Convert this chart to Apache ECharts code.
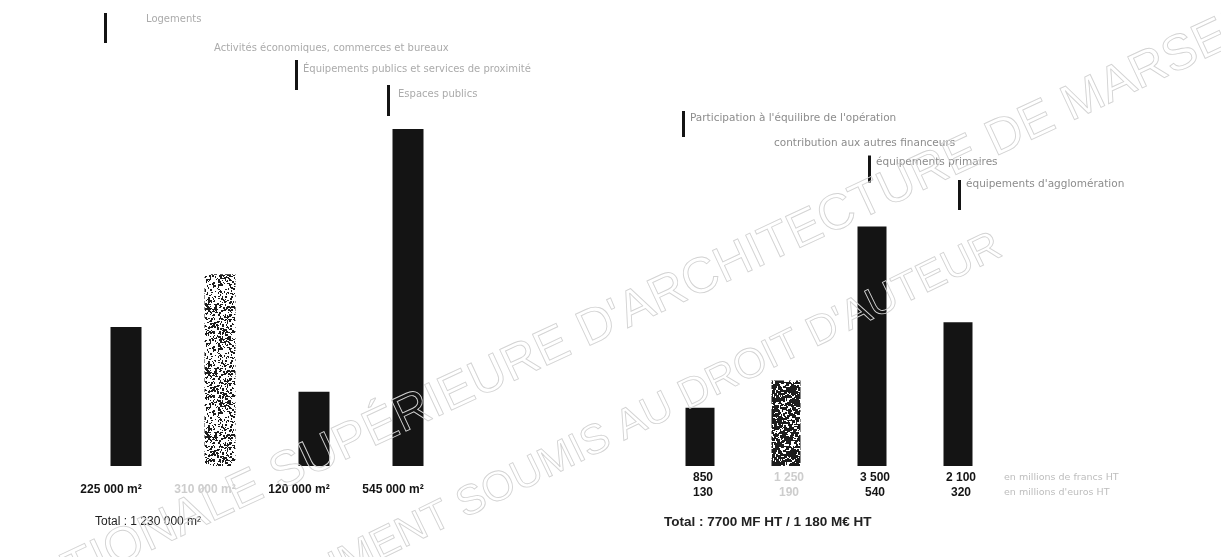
<!DOCTYPE html>
<html>
<head>
<meta charset="utf-8">
<script src="https://cdn.jsdelivr.net/npm/echarts@6/dist/echarts.min.js"></script>
<style>
  html, body { margin: 0; padding: 0; background: #fff; }
  #chart { width: 1221px; height: 557px; }
</style>
</head>
<body>
<div id="chart"></div>
<script>
// Surfaces (m²) by programme component
const surfaceCategories = [
  'Logements',
  'Activités économiques, commerces et bureaux',
  'Équipements publics et services de proximité',
  'Espaces publics'
];
const surfaceValues = [225000, 310000, 120000, 545000];
const surfaceTotal = 'Total : 1 230 000 m²';

// Financing: millions de francs HT and millions d'euros HT
const financeCategories = [
  "Participation à l'équilibre de l'opération",
  'contribution aux autres financeurs',
  'équipements primaires',
  "équipements d'agglomération"
];
const financeFrancs = [850, 1250, 3500, 2100];
const financeEuros = [130, 190, 540, 320];
const financeTotal = 'Total : 7700 MF HT / 1 180 M€ HT';
const financeUnits = ['en millions de francs HT', "en millions d'euros HT"];

const INK = '#141414';
const FAINT = '#cdcdcd';

function fmt(n) {
  return String(n).replace(/\B(?=(\d{3})+(?!\d))/g, ' ');
}

// Speckled fill used for the second component of each chart
function speckle(size, dots, grain) {
  const c = document.createElement('canvas');
  c.width = size; c.height = size;
  const g = c.getContext('2d');
  g.fillStyle = '#ffffff';
  g.fillRect(0, 0, size, size);
  g.fillStyle = '#1c1c1c';
  let a = 0x9e3779b9;
  const next = () => {
    a = (a + 0x6d2b79f5) | 0;
    let t = Math.imul(a ^ (a >>> 15), 1 | a);
    t = (t + Math.imul(t ^ (t >>> 7), 61 | t)) ^ t;
    return ((t ^ (t >>> 14)) >>> 0) / 4294967296;
  };
  for (let i = 0; i < dots; i++) {
    const x = Math.floor(next() * size);
    const y = Math.floor(next() * size);
    g.fillRect(x, y, 1 + Math.floor(next() * grain), 1 + Math.floor(next() * grain));
  }
  return { image: c, repeat: 'repeat' };
}
const speckleLeft = speckle(64, 850, 2);
const speckleRight = speckle(64, 1300, 3);

const chart = echarts.init(document.getElementById('chart'), null, { renderer: 'canvas' });

function barSeries(names, values, axisIndex, width, pattern) {
  return names.map((name, i) => ({
    name: name,
    type: 'bar',
    xAxisIndex: axisIndex,
    yAxisIndex: axisIndex,
    stack: 'g' + axisIndex,
    barWidth: width,
    silent: true,
    itemStyle: { color: i === 1 ? pattern : INK },
    data: values.map((v, j) => (j === i ? v : '-'))
  }));
}

// One legend block per component, staggered above its bar.
// A trailing empty line of height 2*lift raises the label towards the top of its marker.
function legendBlock(name, pos, hidden, size, color) {
  const lift = pos[4];
  return {
    left: pos[0], top: pos[1],
    orient: 'vertical',
    selectedMode: false,
    icon: 'rect',
    itemWidth: 3,
    itemHeight: pos[2],
    itemGap: 0,
    padding: 0,
    data: [{ name: name, itemStyle: { opacity: hidden ? 0 : 1, color: INK } }],
    formatter: (n) => (lift > 0 ? n + '\n ' : n),
    textStyle: {
      fontFamily: 'DejaVu Sans', fontSize: size, color: color,
      lineHeight: lift > 0 ? lift * 2 : size + 2,
      padding: [0, 0, 0, pos[3]]
    }
  };
}

// [left, top, marker height, text indent, text lift]
const leftLegendPos = [[104, 10, 30, 34, 9], [206, 42, 2, 0, 0], [295, 60, 30, 0, 6], [387, 85, 31, 3, 6]];
const rightLegendPos = [[682, 111, 26, 0, 6], [766, 137, 2, 0, 0], [868, 155, 27, 0, 7], [958, 173, 30, 0, 11]];

const option = {
  animation: false,
  backgroundColor: '#ffffff',
  legend: [
    ...surfaceCategories.map((n, i) => legendBlock(n, leftLegendPos[i], i === 1, 10, '#ababab')),
    ...financeCategories.map((n, i) => legendBlock(n, rightLegendPos[i], i === 1, 10.5, '#8c8c8c'))
  ],
  grid: [
    { left: 79, width: 376, top: 100, bottom: 91 },
    { left: 657, width: 344, top: 100, bottom: 91 }
  ],
  xAxis: [
    {
      type: 'category', gridIndex: 0, data: surfaceCategories,
      axisLine: { show: false }, axisTick: { show: false },
      axisLabel: {
        interval: 0, margin: 18,
        fontFamily: 'Liberation Sans', fontWeight: 'bold', fontSize: 12,
        padding: [0, 30, 0, 0],
        color: (v, i) => (i === 1 ? FAINT : INK),
        formatter: (v, i) => fmt(surfaceValues[i]) + ' m²'
      }
    },
    {
      type: 'category', gridIndex: 1, data: financeCategories,
      axisLine: { show: false }, axisTick: { show: false },
      axisLabel: {
        interval: 0, margin: 4, lineHeight: 15,
        fontFamily: 'Liberation Sans', fontWeight: 'bold', fontSize: 12,
        padding: [0, 0, 0, 6],
        color: (v, i) => (i === 1 ? FAINT : INK),
        formatter: (v, i) => fmt(financeFrancs[i]) + '\n' + fmt(financeEuros[i])
      }
    }
  ],
  yAxis: [
    { type: 'value', gridIndex: 0, min: 0, max: 592000, show: false },
    { type: 'value', gridIndex: 1, min: 0, max: 5350, show: false }
  ],
  series: [
    ...barSeries(surfaceCategories, surfaceValues, 0, 31, speckleLeft),
    ...barSeries(financeCategories, financeFrancs, 1, 29, speckleRight)
  ],
  graphic: [
    {
      type: 'text', left: 95, top: 516, silent: true,
      style: { text: surfaceTotal, font: '12px "Liberation Sans"', fill: '#222' }
    },
    {
      type: 'text', left: 664, top: 515, silent: true,
      style: { text: financeTotal, font: 'bold 13.5px "Liberation Sans"', fill: '#222' }
    },
    {
      type: 'text', left: 1004, top: 470, silent: true,
      style: { text: financeUnits.join('\n'), font: '9.5px "DejaVu Sans"', lineHeight: 15, fill: '#bdbdbd' }
    },
    // copyright watermark across the page
    {
      type: 'text', x: 580, y: 335, rotation: 25 * Math.PI / 180, silent: true, z: 100,
      style: {
        text: "ÉCOLE NATIONALE SUPÉRIEURE D'ARCHITECTURE DE MARSEILLE",
        font: '50px "Liberation Sans"', align: 'center', verticalAlign: 'middle',
        fill: 'rgba(255,255,255,0)', stroke: '#d3d3d3', lineWidth: 0.9
      }
    },
    {
      type: 'text', x: 615, y: 432, rotation: 26 * Math.PI / 180, silent: true, z: 100,
      style: {
        text: "DOCUMENT SOUMIS AU DROIT D'AUTEUR",
        font: '42px "Liberation Sans"', align: 'center', verticalAlign: 'middle',
        fill: 'rgba(255,255,255,0)', stroke: '#d3d3d3', lineWidth: 0.9
      }
    }
  ]
};

chart.setOption(option);
</script>
</body>
</html>
